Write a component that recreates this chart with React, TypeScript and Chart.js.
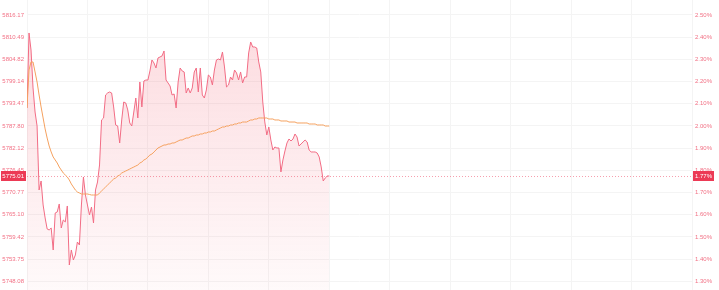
import React, { useEffect, useRef } from 'react';
import { Chart, registerables } from 'chart.js';

Chart.register(...registerables);

// ---- data ----
const preClose = 5674.31;
const lastPrice = 5775.01;
const sessionMinutes = 330; // 09:30-12:00 + 13:00-16:00
const priceMin = 5745.87;
const priceMax = 5820.0;

const priceTicks = [
  5816.17, 5810.49, 5804.82, 5799.14, 5793.47, 5787.8, 5782.12, 5776.45, 5770.77, 5765.1,
  5759.42, 5753.75, 5748.08,
];
const pctTicks = [2.5, 2.4, 2.3, 2.2, 2.1, 2.0, 1.9, 1.8, 1.7, 1.6, 1.5, 1.4, 1.3];

const prices = [
  5792.40, 5811.57, 5807.22, 5797.51, 5791.37, 5787.80, 5771.44, 5773.74, 5767.60, 5764.28,
  5761.47, 5761.21, 5761.72, 5756.10, 5765.56, 5765.81, 5767.86, 5761.72, 5763.77, 5763.26,
  5767.35, 5752.26, 5756.10, 5753.54, 5754.82, 5758.14, 5757.38, 5767.60, 5774.76, 5770.16,
  5767.60, 5765.05, 5767.09, 5763.00, 5771.44, 5773.48, 5777.83, 5789.33, 5789.84, 5795.72,
  5796.23, 5796.49, 5796.23, 5792.65, 5788.05, 5787.80, 5783.45, 5789.33, 5793.93, 5793.68,
  5791.89, 5788.56, 5787.80, 5791.37, 5794.95, 5789.84, 5799.04, 5792.65, 5799.30, 5799.55,
  5799.55, 5801.86, 5804.67, 5803.90, 5802.62, 5805.18, 5805.43, 5805.69, 5806.97, 5799.55,
  5798.79, 5798.02, 5795.72, 5795.98, 5792.40, 5799.04, 5802.62, 5801.86, 5801.60, 5796.23,
  5797.51, 5796.23, 5797.51, 5801.60, 5802.62, 5796.49, 5802.62, 5795.72, 5794.95, 5797.00,
  5800.83, 5800.32, 5798.28, 5802.11, 5804.67, 5804.92, 5804.67, 5806.71, 5802.88, 5797.77,
  5798.28, 5800.32, 5799.55, 5802.11, 5801.34, 5799.55, 5801.60, 5798.79, 5800.32, 5800.32,
  5806.46, 5809.27, 5807.99, 5807.99, 5807.73, 5804.16, 5801.60, 5793.93, 5788.82, 5785.50,
  5787.54, 5784.22, 5781.66, 5782.43, 5782.17, 5782.17, 5776.04, 5779.11, 5781.41, 5783.45,
  5784.47, 5783.96, 5784.47, 5785.75, 5784.98, 5782.68, 5783.20, 5783.71, 5784.22, 5783.71,
  5781.66, 5781.15, 5781.15, 5781.15, 5780.89, 5779.87, 5777.32, 5773.74, 5774.50, 5775.01,
  5775.01,
];

const avgPrices = [
  5792.39, 5802.11, 5804.15, 5804.15, 5801.60, 5799.04, 5795.72, 5792.65, 5789.84, 5787.03,
  5784.72, 5782.68, 5781.15, 5779.87, 5779.10, 5778.33, 5777.31, 5776.54, 5775.78, 5775.27,
  5774.76, 5773.99, 5772.97, 5772.20, 5771.43, 5770.92, 5770.67, 5770.41, 5770.41, 5770.41,
  5770.41, 5770.28, 5770.15, 5770.15, 5770.15, 5770.15, 5770.67, 5771.18, 5771.69, 5772.20,
  5772.71, 5773.22, 5773.73, 5774.24, 5774.50, 5775.01, 5775.27, 5775.78, 5776.03, 5776.29,
  5776.54, 5776.80, 5777.06, 5777.31, 5777.57, 5777.82, 5778.33, 5778.59, 5779.10, 5779.36,
  5779.87, 5780.38, 5780.63, 5781.15, 5781.66, 5782.17, 5782.42, 5782.68, 5782.94, 5782.94,
  5783.19, 5783.19, 5783.45, 5783.45, 5783.70, 5783.96, 5784.21, 5784.21, 5784.47, 5784.72,
  5784.72, 5784.98, 5785.24, 5785.24, 5785.49, 5785.49, 5785.75, 5785.75, 5786.00, 5786.00,
  5786.26, 5786.26, 5786.51, 5786.51, 5786.77, 5787.03, 5787.28, 5787.54, 5787.54, 5787.79,
  5787.79, 5788.05, 5788.05, 5788.30, 5788.30, 5788.56, 5788.56, 5788.81, 5788.81, 5788.81,
  5789.07, 5789.33, 5789.33, 5789.58, 5789.58, 5789.84, 5789.84, 5789.84, 5789.84, 5789.84,
  5789.58, 5789.58, 5789.58, 5789.33, 5789.33, 5789.33, 5789.07, 5789.07, 5789.07, 5789.07,
  5788.81, 5788.81, 5788.81, 5788.81, 5788.56, 5788.56, 5788.56, 5788.56, 5788.56, 5788.56,
  5788.30, 5788.30, 5788.30, 5788.30, 5788.05, 5788.05, 5788.05, 5788.05, 5787.79, 5787.79,
  5787.79,
];

const UP = 'rgba(238, 72, 98, 0.78)';
const GRID = '#f4f4f4';
const FONT = '"Liberation Sans", Arial, sans-serif';

const toPct = (p: number) => (p / preClose - 1) * 100;

export default function App() {
  const ref = useRef<HTMLCanvasElement>(null);

  useEffect(() => {
    const canvas = ref.current;
    if (!canvas) return;

    const lastLinePlugin = {
      id: 'lastLine',
      beforeDatasetsDraw(chart: any) {
        const { ctx, chartArea } = chart;
        const y = Math.round(chart.scales.y.getPixelForValue(lastPrice)) + 0.5;
        ctx.save();
        ctx.strokeStyle = 'rgba(240, 95, 120, 0.6)';
        ctx.lineWidth = 1;
        ctx.setLineDash([1, 2]);
        ctx.beginPath();
        ctx.moveTo(chartArea.left, y);
        ctx.lineTo(chartArea.right, y);
        ctx.stroke();
        ctx.restore();
      },
      afterDraw(chart: any) {
        const { ctx, chartArea } = chart;
        const y = Math.round(chart.scales.y.getPixelForValue(lastPrice));
        ctx.save();
        ctx.fillStyle = '#ec3a55';
        ctx.fillRect(1, y - 5, chartArea.left - 2, 10);
        ctx.fillRect(chartArea.right + 1, y - 5, 21, 10);
        ctx.fillStyle = '#ffffff';
        ctx.font = `6px ${FONT}`;
        ctx.textBaseline = 'middle';
        ctx.textAlign = 'right';
        ctx.fillText(lastPrice.toFixed(2), chartArea.left - 3, y + 0.5);
        ctx.textAlign = 'left';
        ctx.fillText(toPct(lastPrice).toFixed(2) + '%', chartArea.right + 3, y + 0.5);
        ctx.restore();
      },
    };

    const chart = new Chart(canvas, {
      type: 'line',
      data: {
        datasets: [
          {
            label: 'avg',
            data: avgPrices.map((v, i) => ({ x: i, y: v })),
            borderColor: '#f5a15f',
            borderWidth: 1,
            pointRadius: 0,
            tension: 0,
            fill: false,
            yAxisID: 'y',
          },
          {
            label: 'price',
            data: prices.map((v, i) => ({ x: i, y: v })),
            borderColor: '#f26c84',
            borderWidth: 1,
            pointRadius: 0,
            tension: 0,
            fill: 'start',
            backgroundColor: (c: any) => {
              const { chart: ch } = c;
              const area = ch.chartArea;
              if (!area) return 'rgba(242,80,100,0.12)';
              const g = ch.ctx.createLinearGradient(0, area.top, 0, area.bottom);
              g.addColorStop(0, 'rgba(242, 80, 100, 0.22)');
              g.addColorStop(1, 'rgba(242, 80, 100, 0.03)');
              return g;
            },
            yAxisID: 'y',
          },
        ],
      },
      options: {
        responsive: false,
        animation: false,
        layout: { padding: 0 },
        plugins: {
          legend: { display: false },
          tooltip: { enabled: false },
        },
        scales: {
          x: {
            type: 'linear',
            min: 0,
            max: sessionMinutes,
            ticks: { display: false, stepSize: 30 },
            grid: { color: GRID, drawTicks: false },
            border: { display: false },
          },
          y: {
            type: 'linear',
            position: 'left',
            min: priceMin,
            max: priceMax,
            afterBuildTicks: (s: any) => {
              s.ticks = priceTicks.map((v) => ({ value: v }));
            },
            afterFit: (s: any) => {
              s.width = 27;
              s.paddingTop = 0;
              s.paddingBottom = 0;
            },
            ticks: {
              autoSkip: false,
              padding: 3,
              color: UP,
              font: { size: 6, family: FONT },
              callback: (v: any) => Number(v).toFixed(2),
            },
            grid: { color: GRID, drawTicks: false },
            border: { display: false },
          },
          y2: {
            type: 'linear',
            position: 'right',
            min: toPct(priceMin),
            max: toPct(priceMax),
            afterBuildTicks: (s: any) => {
              s.ticks = pctTicks.map((v) => ({ value: v }));
            },
            afterFit: (s: any) => {
              s.width = 27;
              s.paddingTop = 0;
              s.paddingBottom = 0;
            },
            ticks: {
              autoSkip: false,
              padding: 3,
              color: UP,
              font: { size: 6, family: FONT },
              callback: (v: any) => Number(v).toFixed(2) + '%',
            },
            grid: { display: false, drawTicks: false },
            border: { display: false },
          },
        },
      },
      plugins: [lastLinePlugin],
    });

    return () => chart.destroy();
  }, []);

  return (
    <div style={{ position: 'absolute', left: 0, top: 0, width: 719, height: 290, background: '#fff' }}>
      <canvas ref={ref} width={719} height={290} style={{ display: 'block', width: 719, height: 290 }} />
    </div>
  );
}
